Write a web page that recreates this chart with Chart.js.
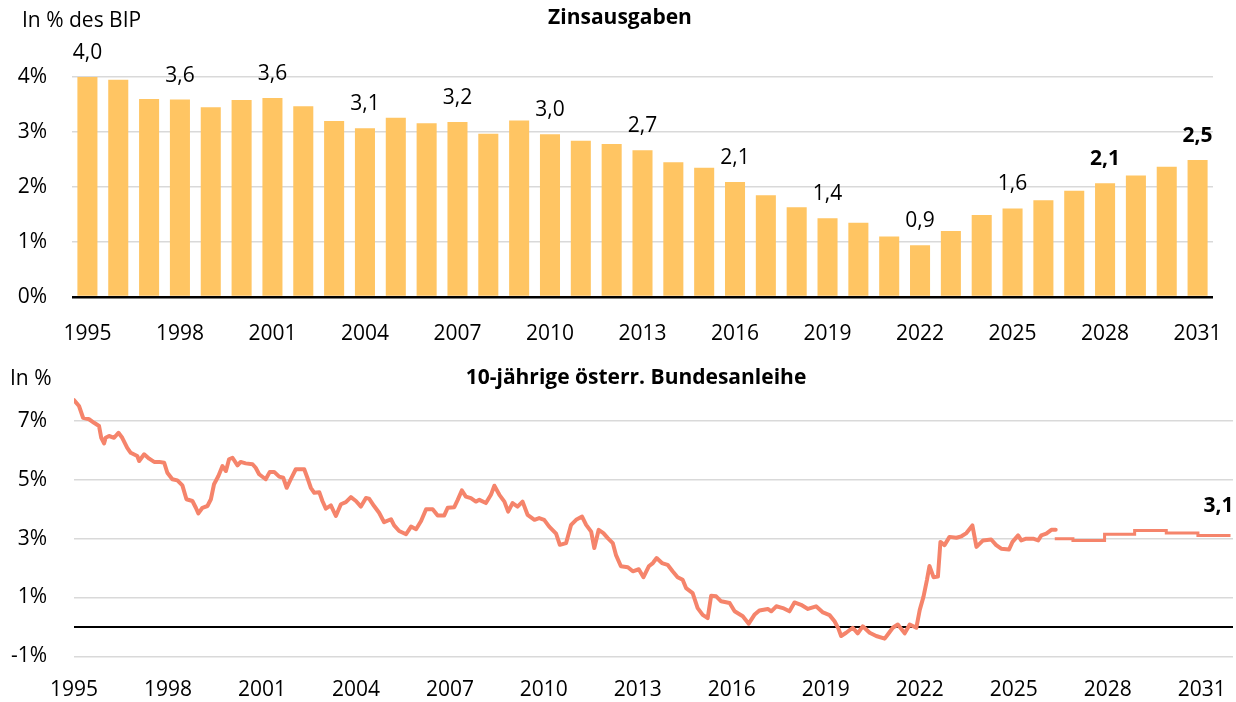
<!DOCTYPE html>
<html>
<head>
<meta charset="utf-8">
<script src="https://cdn.jsdelivr.net/npm/chart.js@4.4.1/dist/chart.umd.min.js"></script>
<style>
    html, body { margin: 0; padding: 0; background: #fff; }
    #top { position: absolute; left: 0; top: 0; width: 1236px; height: 350px; }
    #bottom { position: absolute; left: 0; top: 350px; width: 1236px; height: 352px; }
</style>
</head>
<body>
<div id="top"><canvas id="interestChart"></canvas></div>
<div id="bottom"><canvas id="yieldChart"></canvas></div>
<script>
// --- top chart: interest expenditure, % of GDP ---
var years = [1995, 1996, 1997, 1998, 1999, 2000, 2001, 2002, 2003, 2004, 2005, 2006, 2007,
             2008, 2009, 2010, 2011, 2012, 2013, 2014, 2015, 2016, 2017, 2018, 2019, 2020,
             2021, 2022, 2023, 2024, 2025, 2026, 2027, 2028, 2029, 2030, 2031];
var interest = [4.00, 3.95, 3.60, 3.59, 3.45, 3.58, 3.62, 3.47, 3.20, 3.07, 3.26, 3.16, 3.18,
                2.97, 3.21, 2.96, 2.84, 2.78, 2.67, 2.45, 2.35, 2.09, 1.85, 1.63, 1.43, 1.35,
                1.10, 0.94, 1.20, 1.49, 1.61, 1.76, 1.93, 2.07, 2.21, 2.37, 2.49];
var labelledYears = [1995, 1998, 2001, 2004, 2007, 2010, 2013, 2016, 2019, 2022, 2025, 2028, 2031];
var boldYears = [2028, 2031];
var interestTicks = [0, 1, 2, 3, 4];

// --- bottom chart: 10y Austrian government bond yield, % ---
var histYears = [1995.00, 1995.16, 1995.29, 1995.48, 1995.64, 1995.80, 1995.87, 1995.96, 1996.01, 1996.12,
    1996.28, 1996.42, 1996.54, 1996.70, 1996.81, 1997.02, 1997.08, 1997.24, 1997.40, 1997.56,
    1997.72, 1997.88, 1997.98, 1998.14, 1998.30, 1998.46, 1998.59, 1998.78, 1998.89, 1998.97,
    1999.10, 1999.26, 1999.37, 1999.47, 1999.61, 1999.74, 1999.85, 1999.95, 2000.06, 2000.22,
    2000.32, 2000.48, 2000.70, 2000.80, 2000.91, 2001.12, 2001.25, 2001.39, 2001.55, 2001.68,
    2001.79, 2001.92, 2002.08, 2002.35, 2002.45, 2002.56, 2002.67, 2002.83, 2002.93, 2003.04,
    2003.20, 2003.36, 2003.52, 2003.68, 2003.84, 2004.00, 2004.16, 2004.32, 2004.42, 2004.58,
    2004.74, 2004.90, 2005.12, 2005.22, 2005.38, 2005.60, 2005.76, 2005.92, 2006.08, 2006.24,
    2006.45, 2006.61, 2006.82, 2006.93, 2007.14, 2007.25, 2007.38, 2007.51, 2007.67, 2007.83,
    2007.94, 2008.15, 2008.31, 2008.42, 2008.58, 2008.74, 2008.86, 2009.00, 2009.16, 2009.32,
    2009.48, 2009.70, 2009.85, 2010.01, 2010.17, 2010.39, 2010.51, 2010.71, 2010.87, 2011.03,
    2011.22, 2011.35, 2011.51, 2011.61, 2011.75, 2011.90, 2012.04, 2012.20, 2012.30, 2012.46,
    2012.68, 2012.84, 2013.03, 2013.18, 2013.35, 2013.48, 2013.60, 2013.77, 2013.95, 2014.11,
    2014.27, 2014.43, 2014.54, 2014.75, 2014.91, 2015.07, 2015.23, 2015.34, 2015.50, 2015.66,
    2015.93, 2016.09, 2016.35, 2016.54, 2016.72, 2016.88, 2017.15, 2017.26, 2017.42, 2017.63,
    2017.84, 2018.00, 2018.21, 2018.43, 2018.69, 2018.91, 2019.12, 2019.28, 2019.40, 2019.49,
    2019.65, 2019.86, 2020.02, 2020.18, 2020.40, 2020.61, 2020.88, 2020.98, 2021.14, 2021.30,
    2021.52, 2021.68, 2021.89, 2022.00, 2022.12, 2022.23, 2022.31, 2022.44, 2022.58, 2022.66,
    2022.79, 2022.95, 2023.17, 2023.33, 2023.49, 2023.68, 2023.81, 2024.02, 2024.28, 2024.44,
    2024.60, 2024.85, 2024.96, 2025.14, 2025.24, 2025.40, 2025.62, 2025.78, 2025.88, 2026.04,
    2026.20, 2026.34];
var histYields = [7.71, 7.51, 7.11, 7.06, 6.94, 6.83, 6.43, 6.24, 6.43, 6.49,
    6.43, 6.60, 6.43, 6.09, 5.92, 5.81, 5.64, 5.87, 5.72, 5.61,
    5.61, 5.58, 5.24, 5.02, 4.98, 4.81, 4.34, 4.28, 4.05, 3.86,
    4.05, 4.11, 4.34, 4.85, 5.13, 5.47, 5.30, 5.70, 5.75, 5.49,
    5.61, 5.56, 5.53, 5.41, 5.19, 5.02, 5.27, 5.27, 5.11, 5.07,
    4.73, 5.02, 5.36, 5.36, 5.07, 4.73, 4.56, 4.58, 4.28, 4.02,
    4.13, 3.77, 4.17, 4.24, 4.41, 4.28, 4.09, 4.38, 4.36, 4.11,
    3.88, 3.56, 3.66, 3.45, 3.26, 3.15, 3.41, 3.32, 3.60, 4.00,
    4.00, 3.79, 3.79, 4.05, 4.07, 4.32, 4.64, 4.43, 4.38, 4.26,
    4.32, 4.21, 4.49, 4.80, 4.49, 4.26, 3.92, 4.21, 4.09, 4.26,
    3.81, 3.64, 3.70, 3.64, 3.41, 3.17, 2.79, 2.85, 3.47, 3.64,
    3.75, 3.47, 3.24, 2.68, 3.30, 3.19, 3.02, 2.85, 2.45, 2.06,
    2.03, 1.89, 1.96, 1.69, 2.06, 2.17, 2.34, 2.17, 2.11, 1.89,
    1.69, 1.60, 1.32, 1.15, 0.64, 0.41, 0.30, 1.06, 1.04, 0.87,
    0.81, 0.53, 0.36, 0.11, 0.41, 0.56, 0.61, 0.53, 0.70, 0.64,
    0.53, 0.83, 0.75, 0.61, 0.70, 0.49, 0.40, 0.19, -0.05, -0.31,
    -0.20, -0.03, -0.22, 0.02, -0.20, -0.31, -0.40, -0.26, -0.03, 0.08,
    -0.22, 0.08, -0.03, 0.58, 1.03, 1.60, 2.07, 1.69, 1.71, 2.89,
    2.78, 3.06, 3.03, 3.08, 3.19, 3.45, 2.72, 2.94, 2.97, 2.78,
    2.66, 2.63, 2.89, 3.11, 2.94, 3.00, 3.00, 2.94, 3.11, 3.17,
    3.30, 3.30];
var forecastYears = [2026.31, 2026.89, 2027.90, 2028.86, 2029.87, 2030.88, 2031.92];
var forecastYields = [3.00, 2.94, 3.15, 3.28, 3.19, 3.11, 3.11];
var yieldXTicks = [1995, 1998, 2001, 2004, 2007, 2010, 2013, 2016, 2019, 2022, 2025, 2028, 2031];
var yieldYTicks = [-1, 0, 1, 3, 5, 7];

var FONT = '"Open Sans", "Liberation Sans", sans-serif';
var GRID = '#d9d9d9';
Chart.defaults.font.family = FONT;
Chart.defaults.font.size = 21;
Chart.defaults.color = '#000';

function fmt(v) {
    return v.toFixed(1).replace('.', ',');
}

function toPoints(xs, ys) {
    return xs.map(function (x, i) { return { x: x, y: ys[i] }; });
}

// x axes: fixed height, and no extra side padding for the outer tick labels
function fixXAxis(h) {
    return function (scale) {
        scale.height = h;
        scale.paddingLeft = 0;
        scale.paddingRight = 0;
    };
}

// draws a list of fixed texts (titles, unit captions)
function headingPlugin(items) {
    return {
        id: 'headings',
        afterDraw: function (chart) {
            var ctx = chart.ctx;
            ctx.save();
            ctx.fillStyle = '#000';
            ctx.textBaseline = 'alphabetic';
            items.forEach(function (it) {
                ctx.font = (it.bold ? 'bold ' : '') + '21px ' + FONT;
                ctx.textAlign = it.align;
                ctx.fillText(it.text, it.x, it.y);
            });
            ctx.restore();
        }
    };
}

var barLabels = {
    id: 'barLabels',
    afterDatasetsDraw: function (chart) {
        var ctx = chart.ctx;
        var meta = chart.getDatasetMeta(0);
        ctx.save();
        ctx.fillStyle = '#000';
        ctx.textAlign = 'center';
        ctx.textBaseline = 'alphabetic';
        meta.data.forEach(function (bar, i) {
            var yr = years[i];
            if (labelledYears.indexOf(yr) < 0) return;
            ctx.font = (boldYears.indexOf(yr) >= 0 ? 'bold ' : '') + '21px ' + FONT;
            ctx.fillText(fmt(interest[i]), bar.x, bar.y - 18);
        });
        ctx.restore();
    }
};

var endLabel = {
    id: 'endLabel',
    afterDatasetsDraw: function (chart) {
        var ctx = chart.ctx;
        var pts = chart.getDatasetMeta(1).data;
        var last = pts[pts.length - 1];
        ctx.save();
        ctx.fillStyle = '#000';
        ctx.font = 'bold 21px ' + FONT;
        ctx.textAlign = 'right';
        ctx.textBaseline = 'alphabetic';
        ctx.fillText(fmt(forecastYields[forecastYields.length - 1]), last.x + 3, last.y - 23);
        ctx.restore();
    }
};

new Chart(document.getElementById('interestChart'), {
    type: 'bar',
    data: {
        labels: years,
        datasets: [{
            data: interest,
            backgroundColor: '#ffc563',
            borderWidth: 0,
            barPercentage: 0.65,
            categoryPercentage: 1
        }]
    },
    options: {
        responsive: true,
        maintainAspectRatio: false,
        animation: false,
        devicePixelRatio: 1,
        layout: { padding: { top: 77, right: 23, left: 0, bottom: 0 } },
        plugins: { legend: { display: false }, tooltip: { enabled: false } },
        scales: {
            x: {
                grid: { display: false, drawTicks: false },
                border: { display: false },
                afterFit: fixXAxis(53),
                ticks: {
                    autoSkip: false,
                    maxRotation: 0,
                    padding: 24,
                    callback: function (val, idx) {
                        return labelledYears.indexOf(years[idx]) >= 0 ? String(years[idx]) : '';
                    }
                }
            },
            y: {
                min: 0,
                max: 4,
                afterBuildTicks: function (scale) {
                    scale.ticks = interestTicks.map(function (v) { return { value: v }; });
                },
                afterFit: function (scale) { scale.width = 72; },
                border: { display: false },
                grid: {
                    drawTicks: false,
                    color: function (c) { return c.tick.value === 0 ? '#000' : GRID; },
                    lineWidth: function (c) { return c.tick.value === 0 ? 2.5 : 1.5; }
                },
                ticks: {
                    padding: 25,
                    callback: function (v) { return v + '%'; }
                }
            }
        }
    },
    plugins: [barLabels, headingPlugin([
        { text: 'Zinsausgaben', x: 620, y: 24, align: 'center', bold: true },
        { text: 'In % des BIP', x: 22, y: 27, align: 'left' }
    ])]
});

new Chart(document.getElementById('yieldChart'), {
    type: 'line',
    data: {
        datasets: [{
            data: toPoints(histYears, histYields),
            borderColor: '#f5846b',
            borderWidth: 4,
            pointRadius: 0,
            tension: 0,
            borderJoinStyle: 'round',
            borderCapStyle: 'round'
        }, {
            data: toPoints(forecastYears, forecastYields),
            borderColor: '#f5846b',
            borderWidth: 3,
            pointRadius: 0,
            stepped: true
        }]
    },
    options: {
        responsive: true,
        maintainAspectRatio: false,
        animation: false,
        devicePixelRatio: 1,
        layout: { padding: { top: 41.6, right: 3, left: 0, bottom: 0 } },
        plugins: { legend: { display: false }, tooltip: { enabled: false } },
        scales: {
            x: {
                type: 'linear',
                min: 1995,
                max: 2032,
                afterBuildTicks: function (scale) {
                    scale.ticks = yieldXTicks.map(function (v) { return { value: v }; });
                },
                afterFit: fixXAxis(45.7),
                grid: { display: false, drawTicks: false },
                border: { display: false },
                ticks: {
                    maxRotation: 0,
                    padding: 21,
                    callback: function (v) { return String(v); }
                }
            },
            y: {
                min: -1,
                max: 8,
                afterBuildTicks: function (scale) {
                    scale.ticks = yieldYTicks.map(function (v) { return { value: v }; });
                },
                afterFit: function (scale) { scale.width = 74; },
                border: { display: false },
                grid: {
                    drawTicks: false,
                    color: function (c) { return c.tick.value === 0 ? '#000' : GRID; },
                    lineWidth: function (c) { return c.tick.value === 0 ? 2 : 1.5; }
                },
                ticks: {
                    padding: 27,
                    callback: function (v) { return v === 0 ? '' : v + '%'; }
                }
            }
        }
    },
    plugins: [endLabel, headingPlugin([
        { text: '10-jährige österr. Bundesanleihe', x: 636, y: 34, align: 'center', bold: true },
        { text: 'In %', x: 10, y: 35, align: 'left' }
    ])]
});
</script>
</body>
</html>
